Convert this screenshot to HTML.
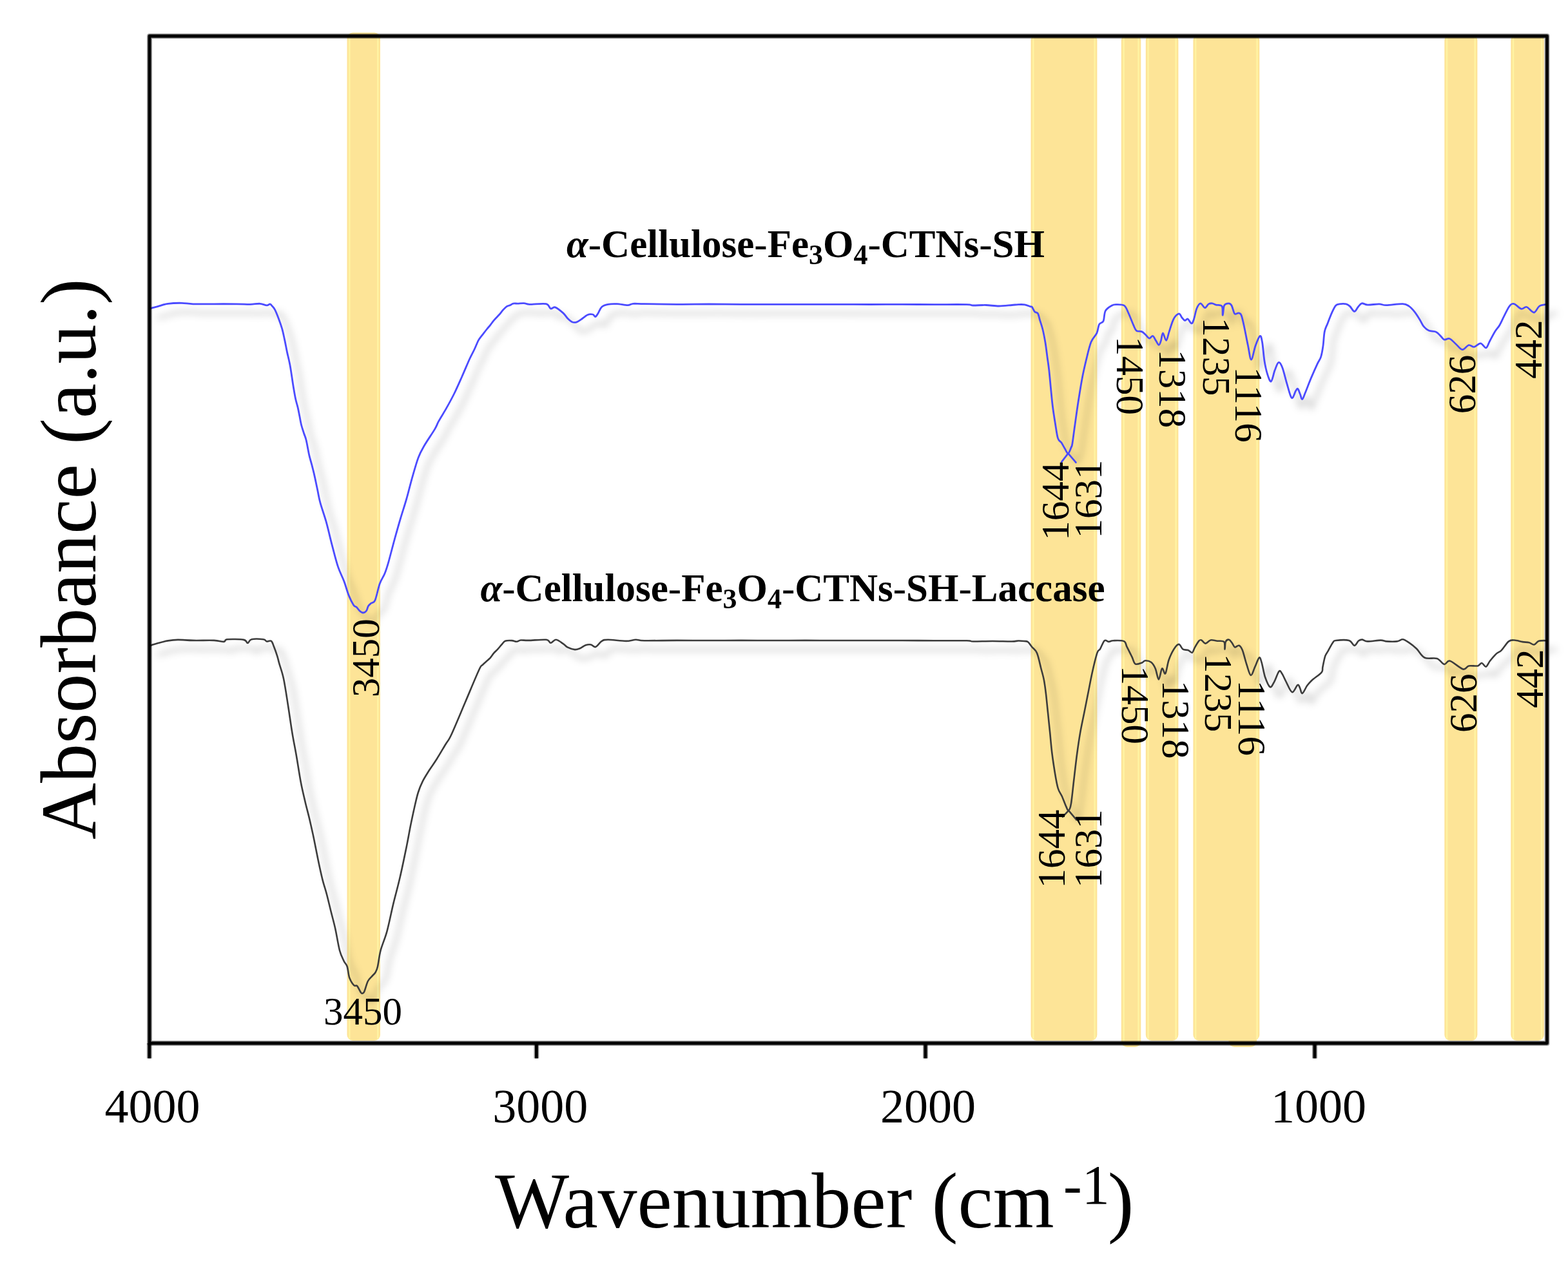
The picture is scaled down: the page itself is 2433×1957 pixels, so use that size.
<!DOCTYPE html>
<html><head><meta charset="utf-8"><title>FTIR spectra</title>
<style>
html,body{margin:0;padding:0;background:#fff;}
body{width:2433px;height:1957px;overflow:hidden;}
svg{display:block;}
</style></head>
<body>
<svg width="2433" height="1957" viewBox="0 0 2433 1957">
<defs>
<filter id="sh" x="0" y="0" width="2433" height="1957" filterUnits="userSpaceOnUse">
<feGaussianBlur in="SourceAlpha" stdDeviation="6"/>
<feOffset dx="14" dy="14" result="b"/>
<feFlood flood-color="#000" flood-opacity="0.30"/>
<feComposite in2="b" operator="in"/>
</filter>
</defs>
<rect width="2433" height="1957" fill="#fff"/>
<g>
<g>
<rect x="538.5" y="50.5" width="51.5" height="1564.5" rx="9" fill="#FDE497"/>
<rect x="1599.5" y="54" width="102.9" height="1561" rx="9" fill="#FDE497"/>
<rect x="1739.8" y="54" width="30.5" height="1571" rx="9" fill="#FDE497"/>
<rect x="1777.8" y="54" width="50.6" height="1561" rx="9" fill="#FDE497"/>
<rect x="1851.4" y="54" width="102.9" height="1561" rx="9" fill="#FDE497"/>
<rect x="1906.5" y="54" width="43.5" height="1571" rx="9" fill="#FDE497"/>
<rect x="2241.3" y="54" width="51.1" height="1561" rx="9" fill="#FDE497"/>
<rect x="2344.3" y="54" width="51.5" height="1561" rx="9" fill="#FDE497"/>
<rect x="541.0" y="53.0" width="2.5" height="1559.5" fill="#FFF3A2"/>
<rect x="585" y="53.0" width="2.5" height="1559.5" fill="#FFF3A2"/>
<rect x="1602.0" y="56.5" width="2.5" height="1556" fill="#FFF3A2"/>
<rect x="1697.4" y="56.5" width="2.5" height="1556" fill="#FFF3A2"/>
<rect x="1742.3" y="56.5" width="2.5" height="1566" fill="#FFF3A2"/>
<rect x="1765.3" y="56.5" width="2.5" height="1566" fill="#FFF3A2"/>
<rect x="1780.3" y="56.5" width="2.5" height="1556" fill="#FFF3A2"/>
<rect x="1823.4" y="56.5" width="2.5" height="1556" fill="#FFF3A2"/>
<rect x="1853.9" y="56.5" width="2.5" height="1556" fill="#FFF3A2"/>
<rect x="1949.3" y="56.5" width="2.5" height="1556" fill="#FFF3A2"/>
<rect x="2243.8" y="56.5" width="2.5" height="1556" fill="#FFF3A2"/>
<rect x="2287.4" y="56.5" width="2.5" height="1556" fill="#FFF3A2"/>
<rect x="2346.8" y="56.5" width="2.5" height="1556" fill="#FFF3A2"/>
<rect x="2390.8" y="56.5" width="2.5" height="1556" fill="#FFF3A2"/>
</g>
<g fill="none" stroke-linejoin="round" stroke-linecap="round">
<path d="M232.0,479.5C232.4,479.3 232.0,479.2 234.2,478.5C236.4,477.8 241.0,476.6 245.4,475.4C249.8,474.2 254.6,472.1 260.7,471.3C266.8,470.5 275.6,470.2 282.1,470.3C288.6,470.4 291.2,471.6 299.5,471.8C307.8,472.1 320.7,471.8 332.1,471.8C343.5,471.8 358.5,471.7 367.9,471.8C377.3,471.9 382.4,472.4 388.3,472.3C394.2,472.2 399.4,471.0 403.6,471.3C407.9,471.6 411.2,473.8 413.8,473.9C416.4,474.0 417.6,471.8 418.9,471.8C420.1,471.8 420.1,472.4 421.3,473.8C422.5,475.2 424.4,476.5 426.3,480.1C428.2,483.7 430.8,490.3 432.7,495.4C434.6,500.5 436.3,505.3 437.8,510.6C439.3,515.9 440.3,521.2 441.6,527.1C442.9,533.0 443.9,539.1 445.4,546.1C446.9,553.1 448.8,559.9 450.4,568.9C452.0,577.9 453.8,591.7 455.2,600.0C456.6,608.3 457.4,613.1 458.5,618.5C459.6,623.9 461.0,627.7 462.1,632.3C463.2,636.9 464.0,641.5 464.9,646.1C465.8,650.7 466.6,655.7 467.7,660.0C468.8,664.3 470.2,668.2 471.4,672.0C472.6,675.8 473.7,677.3 475.1,683.0C476.5,688.7 478.3,700.0 479.7,706.1C481.1,712.2 482.0,714.5 483.4,719.9C484.8,725.3 486.5,731.7 488.0,738.4C489.5,745.1 491.1,753.0 492.6,760.0C494.1,767.0 494.6,771.9 496.9,780.2C499.1,788.5 503.0,798.6 506.1,809.7C509.2,820.8 512.3,834.9 515.4,846.6C518.5,858.3 521.5,870.7 524.6,879.9C527.7,889.1 531.0,894.6 533.8,902.0C536.6,909.4 538.7,918.0 541.2,924.1C543.7,930.2 546.6,935.8 548.6,938.9C550.6,942.0 551.9,941.0 553.5,942.5C555.1,944.0 556.4,946.6 558.0,948.0C559.6,949.4 561.6,951.0 563.4,951.0C565.1,951.0 567.1,949.8 568.5,948.0C569.9,946.2 570.2,942.5 571.5,940.5C572.8,938.5 574.2,937.5 576.0,936.0C577.8,934.5 579.8,936.5 582.0,931.5C584.2,926.5 586.7,912.9 589.2,906.0C591.7,899.1 594.7,895.8 597.0,890.0C599.3,884.2 600.6,880.2 603.1,871.3C605.6,862.4 609.2,847.9 612.3,836.8C615.4,825.7 618.4,814.9 621.5,804.5C624.6,794.1 627.6,785.3 630.7,774.5C633.8,763.7 636.9,750.7 640.0,739.9C643.1,729.1 646.1,718.0 649.2,709.9C652.3,701.8 654.2,698.8 658.4,691.5C662.6,684.2 670.9,672.4 674.6,666.1C678.3,659.8 677.7,659.2 680.7,653.7C683.7,648.2 688.7,640.5 692.7,633.4C696.7,626.3 700.7,619.1 704.7,611.0C708.7,602.9 712.7,593.7 716.7,584.7C720.7,575.7 725.5,564.1 728.7,557.0C732.0,549.9 734.2,546.3 736.2,542.0C738.2,537.7 739.8,533.5 741.0,531.0C742.2,528.5 741.9,528.7 743.2,526.8C744.5,524.9 746.8,522.0 748.8,519.4C750.8,516.8 753.3,513.5 755.3,511.0C757.3,508.5 758.9,506.8 760.8,504.5C762.6,502.2 764.1,499.8 766.4,497.1C768.7,494.4 772.4,490.9 774.7,488.3C777.0,485.7 778.4,483.4 780.3,481.3C782.2,479.2 784.0,477.1 785.9,475.8C787.8,474.5 790.1,474.3 791.9,473.5C793.7,472.7 794.6,471.5 796.5,471.1C798.4,470.7 800.8,471.2 803.5,471.1C806.2,471.0 810.0,470.5 812.8,470.7C815.5,470.9 817.9,471.8 820.0,472.1C822.1,472.4 820.6,472.4 825.2,472.3C829.8,472.2 842.6,470.6 847.5,471.7C852.4,472.8 852.1,478.1 854.4,479.0C856.7,479.9 858.1,475.8 861.4,476.9C864.6,478.0 870.6,483.0 873.9,485.9C877.1,488.8 878.6,492.0 880.9,494.3C883.2,496.6 885.5,498.9 887.8,499.8C890.1,500.7 892.5,500.5 894.8,499.8C897.1,499.1 899.0,497.6 901.8,495.7C904.6,493.8 908.5,490.0 911.5,488.7C914.5,487.4 917.7,487.5 919.8,488.0C921.9,488.5 922.6,491.9 924.0,491.5C925.4,491.1 926.6,488.4 928.2,485.9C929.8,483.3 931.2,478.5 933.8,476.2C936.3,473.9 939.6,473.1 943.5,472.3C947.4,471.6 952.3,471.5 957.4,471.7C962.5,471.9 969.9,473.8 974.1,473.7C978.3,473.6 978.2,471.6 982.5,471.3C986.8,471.0 988.8,471.5 1000.0,471.7C1011.2,471.9 1033.3,472.2 1050.0,472.3C1066.7,472.4 1083.3,472.0 1100.0,472.0C1116.7,472.0 1133.3,472.3 1150.0,472.4C1166.7,472.4 1183.3,472.3 1200.0,472.3C1216.7,472.3 1233.3,472.3 1250.0,472.3C1266.7,472.3 1283.3,472.3 1300.0,472.3C1316.7,472.3 1333.3,472.5 1350.0,472.5C1366.7,472.5 1383.3,472.4 1400.0,472.4C1416.7,472.4 1433.3,472.6 1450.0,472.6C1466.7,472.6 1490.0,472.4 1500.0,472.6C1510.0,472.8 1505.0,473.9 1510.0,474.0C1515.0,474.1 1523.3,473.3 1530.0,473.5C1536.7,473.7 1543.3,475.0 1550.0,475.0C1556.7,475.0 1565.0,473.9 1570.0,473.5C1575.0,473.1 1576.7,472.7 1580.0,472.6C1583.3,472.5 1586.8,472.3 1590.0,472.8C1593.2,473.3 1597.1,475.2 1599.0,475.8C1600.9,476.4 1600.3,475.2 1601.4,476.5C1602.5,477.8 1604.0,482.1 1605.5,483.8C1607.0,485.5 1609.0,484.3 1610.4,486.6C1611.8,488.9 1612.5,493.6 1613.8,497.7C1615.1,501.8 1616.6,505.8 1618.0,511.5C1619.4,517.2 1620.9,525.3 1622.1,532.2C1623.2,539.1 1624.0,546.1 1624.9,553.0C1625.8,559.9 1626.8,565.6 1627.7,573.7C1628.6,581.8 1629.5,592.2 1630.4,601.4C1631.3,610.6 1632.1,619.8 1633.2,629.0C1634.3,638.2 1635.9,648.2 1637.3,656.7C1638.7,665.2 1639.9,675.1 1641.5,680.2C1643.1,685.3 1645.2,684.3 1647.0,687.1C1648.8,689.9 1650.9,694.0 1652.6,696.8C1654.3,699.6 1655.8,704.2 1657.4,703.7C1659.0,703.2 1661.1,696.7 1662.2,694.1C1663.3,691.5 1663.1,693.5 1664.0,688.0C1664.9,682.5 1666.2,671.3 1667.7,661.0C1669.2,650.7 1670.8,638.2 1672.7,626.0C1674.6,613.8 1676.9,599.1 1679.0,587.9C1681.1,576.7 1683.1,568.2 1685.4,558.7C1687.7,549.2 1690.2,537.8 1693.0,530.8C1695.8,523.8 1699.8,521.4 1701.9,516.8C1704.0,512.2 1703.9,506.4 1705.6,503.3C1707.3,500.2 1710.4,501.9 1712.0,498.4C1713.6,494.9 1713.1,486.3 1715.3,482.3C1717.5,478.3 1722.3,475.8 1725.0,474.2C1727.7,472.6 1728.2,472.6 1731.4,472.6C1734.6,472.6 1741.1,472.1 1744.3,474.2C1747.5,476.3 1748.4,480.4 1750.8,485.5C1753.2,490.6 1756.8,500.2 1758.9,504.9C1761.0,509.5 1761.4,511.8 1763.5,513.4C1765.6,515.0 1769.2,513.6 1771.5,514.6C1773.8,515.6 1775.4,517.5 1777.3,519.2C1779.2,520.9 1781.2,524.6 1783.1,525.0C1785.0,525.4 1787.1,520.9 1788.8,521.5C1790.5,522.1 1791.9,526.1 1793.4,528.4C1795.0,530.7 1796.8,535.4 1798.1,535.4C1799.4,535.4 1800.5,531.5 1801.5,528.4C1802.5,525.3 1803.1,516.9 1804.4,516.9C1805.8,516.9 1808.0,528.8 1809.6,528.4C1811.2,528.0 1812.3,520.2 1814.2,514.6C1816.1,509.0 1818.6,499.6 1821.1,495.0C1823.6,490.4 1827.1,487.3 1829.2,486.9C1831.3,486.5 1832.3,491.0 1833.8,492.7C1835.3,494.4 1836.9,496.9 1838.4,497.3C1839.9,497.7 1841.3,494.2 1843.0,495.0C1844.7,495.8 1847.2,501.7 1848.8,501.9C1850.3,502.1 1850.9,500.0 1852.3,496.1C1853.7,492.2 1855.2,483.0 1856.9,478.8C1858.6,474.6 1860.6,471.0 1862.7,470.8C1864.8,470.6 1867.5,477.5 1869.6,477.7C1871.7,477.9 1873.4,473.0 1875.3,471.9C1877.2,470.8 1879.2,470.6 1881.1,470.8C1883.0,471.0 1884.4,472.3 1886.9,473.1C1889.4,473.9 1894.4,472.7 1896.1,475.4C1897.8,478.1 1896.7,489.4 1897.3,489.2C1897.9,489.0 1898.1,477.3 1899.6,474.2C1901.1,471.1 1904.6,470.8 1906.5,470.8C1908.4,470.8 1909.6,471.5 1911.1,474.2C1912.6,476.9 1914.0,485.0 1915.7,486.9C1917.4,488.8 1919.8,485.4 1921.5,485.8C1923.2,486.2 1924.6,485.6 1926.1,489.2C1927.6,492.8 1929.0,499.8 1930.7,507.7C1932.4,515.6 1934.7,528.1 1936.5,536.5C1938.3,544.9 1939.6,558.0 1941.5,558.0C1943.4,558.0 1945.8,542.6 1948.1,536.5C1950.3,530.4 1953.3,522.5 1955.0,521.5C1956.7,520.5 1957.3,524.4 1958.5,530.7C1959.7,537.1 1960.6,551.3 1961.9,559.6C1963.2,567.9 1964.8,574.9 1966.5,580.3C1968.2,585.7 1970.4,592.8 1972.3,591.9C1974.2,591.0 1976.2,579.5 1978.1,574.6C1980.0,569.7 1981.9,563.3 1983.8,562.5C1985.7,561.7 1987.5,564.7 1989.6,570.0C1991.7,575.3 1994.4,586.9 1996.5,594.2C1998.6,601.5 2000.8,610.0 2002.3,613.8C2003.8,617.6 2004.3,618.4 2005.7,617.2C2007.1,616.1 2009.1,609.2 2010.4,606.9C2011.8,604.6 2012.7,602.6 2013.8,603.4C2014.9,604.2 2016.1,608.8 2017.3,611.5C2018.5,614.2 2019.3,620.0 2020.7,619.6C2022.1,619.2 2023.1,614.8 2025.4,609.2C2027.7,603.6 2031.5,593.4 2034.6,586.1C2037.7,578.8 2041.3,570.7 2043.8,565.3C2046.3,559.9 2048.1,558.6 2049.6,553.8C2051.1,549.0 2052.1,543.0 2053.0,536.5C2053.9,530.0 2054.1,520.4 2055.3,514.6C2056.5,508.8 2058.1,506.9 2060.0,501.9C2061.9,496.9 2064.8,489.2 2066.9,484.6C2069.0,480.0 2070.7,476.3 2072.6,474.2C2074.5,472.1 2075.7,472.3 2078.4,471.9C2081.1,471.5 2086.1,471.3 2088.8,471.9C2091.5,472.5 2092.5,473.5 2094.6,475.4C2096.7,477.3 2099.4,483.2 2101.5,483.4C2103.6,483.6 2105.3,478.6 2107.2,476.5C2109.1,474.4 2110.5,471.4 2113.0,470.8C2115.5,470.2 2117.7,472.9 2122.2,473.1C2126.7,473.3 2135.2,471.8 2140.0,471.9C2144.8,472.0 2145.0,473.8 2151.1,473.7C2157.2,473.6 2170.6,471.4 2176.4,471.6C2182.2,471.8 2183.1,473.1 2186.2,475.1C2189.2,477.1 2191.9,480.1 2194.7,483.6C2197.5,487.1 2200.8,492.4 2203.1,496.2C2205.4,499.9 2206.4,503.3 2208.7,506.1C2211.0,508.9 2213.8,511.6 2217.1,513.1C2220.4,514.6 2225.3,513.8 2228.4,515.2C2231.5,516.6 2233.3,519.5 2235.4,521.5C2237.5,523.5 2238.7,526.4 2241.0,527.1C2243.3,527.8 2246.4,524.5 2249.5,525.7C2252.6,526.9 2256.0,531.4 2259.3,534.2C2262.6,537.0 2265.8,542.4 2269.1,542.6C2272.4,542.8 2275.9,536.3 2279.0,535.6C2282.1,534.9 2284.3,538.9 2287.4,538.4C2290.5,537.9 2294.2,532.6 2297.3,532.8C2300.4,533.0 2303.4,540.3 2305.7,539.8C2308.0,539.3 2309.0,534.2 2311.3,530.0C2313.6,525.8 2317.1,518.7 2319.7,514.5C2322.3,510.3 2324.5,508.7 2326.8,504.7C2329.2,500.7 2331.2,495.5 2333.8,490.6C2336.4,485.7 2339.6,478.3 2342.2,475.1C2344.8,471.9 2346.2,470.9 2349.3,471.6C2352.4,472.3 2357.2,478.6 2360.5,479.4C2363.8,480.2 2365.6,475.6 2368.9,476.5C2372.2,477.4 2376.9,485.2 2380.2,485.0C2383.5,484.8 2385.2,477.2 2388.6,475.1C2392.0,473.0 2398.5,472.8 2400.5,472.3" stroke="#000" stroke-width="3" filter="url(#sh)"/>
<path d="M232.0,1002.5C232.4,1002.3 232.0,1002.2 234.2,1001.5C236.4,1000.8 241.0,999.2 245.4,998.0C249.8,996.8 255.6,995.2 260.7,994.4C265.8,993.5 269.5,993.0 276.0,992.9C282.5,992.8 290.1,993.7 299.5,993.9C308.9,994.1 324.1,993.6 332.1,993.9C340.1,994.2 344.0,996.2 347.4,995.9C350.8,995.6 347.5,992.8 352.6,992.3C357.7,991.8 372.8,991.9 378.1,992.9C383.4,993.9 382.2,998.1 384.2,998.0C386.2,997.9 386.2,993.2 390.3,992.3C394.4,991.3 404.8,991.8 408.7,992.3C412.6,992.8 411.8,995.0 413.8,995.4C415.8,995.8 419.0,993.5 420.9,994.9C422.8,996.3 423.5,999.8 425.0,1003.6C426.5,1007.4 428.7,1013.5 430.1,1017.9C431.5,1022.3 431.7,1024.2 433.4,1030.2C435.1,1036.2 437.9,1043.0 440.1,1053.6C442.3,1064.2 444.6,1079.8 446.8,1093.7C449.0,1107.6 451.2,1123.8 453.4,1137.2C455.6,1150.6 457.9,1161.2 460.1,1174.0C462.3,1186.8 464.6,1202.4 466.8,1214.1C469.0,1225.8 471.3,1234.7 473.5,1244.2C475.7,1253.7 478.0,1261.5 480.2,1271.0C482.4,1280.5 484.7,1290.4 486.9,1301.0C489.1,1311.6 491.4,1323.9 493.6,1334.5C495.8,1345.1 498.1,1355.7 500.3,1364.6C502.5,1373.5 504.8,1379.6 507.0,1388.0C509.2,1396.4 511.4,1405.9 513.6,1414.8C515.8,1423.7 518.1,1431.5 520.3,1441.5C522.5,1451.5 524.8,1466.6 527.0,1475.0C529.2,1483.4 531.8,1487.5 533.7,1491.7C535.7,1495.9 537.3,1495.7 538.7,1500.0C540.1,1504.3 540.5,1512.5 542.2,1517.4C544.0,1522.3 547.2,1527.1 549.2,1529.2C551.2,1531.3 552.3,1528.2 554.0,1530.0C555.7,1531.8 558.3,1537.7 559.6,1539.7C560.9,1541.7 560.8,1541.9 561.7,1541.8C562.6,1541.7 563.7,1542.1 565.2,1539.0C566.7,1535.9 568.7,1527.0 570.7,1523.0C572.7,1519.0 575.0,1517.6 577.0,1515.3C579.0,1513.0 581.1,1511.5 582.6,1509.0C584.1,1506.5 584.7,1505.7 586.0,1500.0C587.3,1494.3 588.2,1484.2 590.6,1475.0C593.0,1465.8 597.3,1457.2 600.6,1444.9C603.9,1432.6 607.2,1415.3 610.6,1401.4C614.0,1387.5 617.4,1375.8 620.7,1361.3C624.1,1346.8 627.9,1328.0 630.7,1314.4C633.5,1300.9 635.2,1290.2 637.3,1280.0C639.4,1269.8 641.2,1261.3 643.1,1253.0C645.0,1244.7 646.7,1236.7 648.8,1230.0C650.9,1223.3 652.9,1218.4 655.8,1212.6C658.7,1206.8 662.5,1201.1 666.1,1195.3C669.8,1189.5 673.5,1184.7 677.7,1178.0C681.9,1171.3 687.7,1161.3 691.5,1155.0C695.3,1148.7 695.4,1150.8 700.4,1140.0C705.4,1129.2 714.7,1106.7 721.8,1090.0C728.9,1073.3 738.6,1049.7 743.1,1040.0C747.6,1030.3 746.8,1034.2 748.8,1031.9C750.8,1029.6 753.3,1027.8 755.3,1025.9C757.3,1024.1 758.9,1022.9 760.8,1020.8C762.6,1018.7 764.5,1015.6 766.4,1013.4C768.3,1011.2 770.4,1009.6 772.4,1007.4C774.4,1005.2 776.5,1002.5 778.4,1000.4C780.3,998.3 781.4,995.8 784.0,994.8C786.6,993.8 791.3,993.9 794.2,994.1C797.1,994.3 799.3,995.9 801.6,995.8C803.9,995.7 805.0,993.8 808.1,993.5C811.2,993.2 813.4,994.0 820.0,993.9C826.6,993.8 841.8,992.2 847.5,992.8C853.2,993.4 851.9,997.7 854.4,997.7C856.9,997.7 859.5,992.6 862.8,992.8C866.0,993.0 870.9,997.1 873.9,999.1C876.9,1001.1 877.9,1003.2 880.9,1004.7C883.9,1006.2 888.8,1007.9 892.0,1008.1C895.2,1008.3 897.6,1007.1 900.4,1006.0C903.2,1004.9 905.9,1002.1 908.7,1001.2C911.5,1000.3 914.6,1000.0 917.1,1000.5C919.6,1001.0 921.2,1004.9 924.0,1004.0C926.8,1003.1 930.5,996.8 933.8,994.9C937.0,993.0 937.2,992.8 943.5,992.8C949.8,992.8 964.1,994.9 971.3,994.9C978.5,994.9 981.8,992.9 986.6,992.8C991.4,992.7 989.4,994.0 1000.0,994.2C1010.6,994.4 1033.3,993.9 1050.0,993.9C1066.7,993.9 1083.3,994.0 1100.0,994.0C1116.7,994.0 1133.3,993.9 1150.0,993.9C1166.7,993.9 1183.3,994.0 1200.0,994.0C1216.7,994.0 1233.3,993.9 1250.0,993.9C1266.7,993.9 1283.3,994.0 1300.0,994.0C1316.7,994.0 1333.3,994.0 1350.0,994.0C1366.7,994.0 1383.3,994.0 1400.0,994.0C1416.7,994.0 1433.3,994.2 1450.0,994.2C1466.7,994.2 1490.0,994.1 1500.0,994.3C1510.0,994.5 1503.3,995.4 1510.0,995.5C1516.7,995.6 1530.0,995.0 1540.0,995.0C1550.0,995.0 1563.3,995.6 1570.0,995.5C1576.7,995.4 1576.8,994.6 1580.0,994.5C1583.2,994.4 1586.5,994.7 1589.0,995.0C1591.5,995.3 1593.0,994.7 1595.0,996.2C1597.0,997.7 1598.9,1001.1 1601.2,1004.0C1603.5,1006.9 1606.7,1007.9 1609.0,1013.4C1611.3,1018.9 1613.4,1029.7 1615.2,1036.7C1617.0,1043.7 1618.6,1048.7 1619.9,1055.4C1621.2,1062.2 1622.0,1068.6 1623.0,1077.2C1624.0,1085.8 1625.0,1096.7 1626.1,1106.8C1627.1,1116.9 1628.2,1127.5 1629.3,1137.9C1630.3,1148.3 1631.1,1158.6 1632.4,1169.0C1633.7,1179.4 1635.5,1191.1 1637.0,1200.2C1638.5,1209.3 1639.9,1217.5 1641.7,1223.5C1643.5,1229.5 1645.8,1231.3 1647.9,1236.0C1650.0,1240.7 1652.5,1248.0 1654.2,1251.6C1655.9,1255.2 1656.8,1258.6 1658.1,1257.8C1659.4,1257.0 1660.6,1255.2 1662.0,1246.9C1663.4,1238.6 1665.0,1221.0 1666.6,1208.0C1668.1,1195.0 1669.7,1180.7 1671.3,1169.0C1672.9,1157.3 1674.2,1148.3 1676.0,1137.9C1677.8,1127.5 1680.1,1117.2 1682.2,1106.8C1684.3,1096.4 1686.3,1086.0 1688.4,1075.6C1690.5,1065.2 1692.3,1054.9 1694.6,1044.5C1696.9,1034.1 1700.3,1019.6 1702.4,1013.4C1704.5,1007.2 1705.2,1010.3 1707.1,1007.1C1709.0,1003.9 1711.6,996.1 1713.8,994.2C1716.0,992.3 1718.3,995.9 1720.5,995.9C1722.7,995.9 1723.3,994.3 1727.2,994.2C1731.1,994.1 1740.3,993.5 1743.9,995.1C1747.5,996.7 1746.5,999.8 1748.6,1003.8C1750.7,1007.8 1754.2,1015.0 1756.4,1019.4C1758.6,1023.8 1759.0,1028.9 1761.6,1030.4C1764.2,1031.9 1769.4,1029.3 1772.0,1028.4C1774.6,1027.5 1774.7,1025.3 1777.1,1025.2C1779.5,1025.1 1783.6,1025.8 1786.2,1027.8C1788.8,1029.8 1790.8,1033.1 1792.7,1037.5C1794.7,1041.9 1796.2,1054.4 1797.9,1054.4C1799.6,1054.4 1801.4,1039.0 1803.1,1037.5C1804.8,1036.0 1806.6,1047.5 1808.3,1045.3C1810.0,1043.1 1811.3,1030.8 1813.5,1024.5C1815.7,1018.2 1818.7,1011.8 1821.3,1007.7C1823.9,1003.6 1826.7,999.9 1829.1,999.9C1831.5,999.9 1833.2,1006.2 1835.6,1007.7C1838.0,1009.2 1841.0,1008.1 1843.4,1009.0C1845.8,1009.9 1848.2,1013.5 1849.9,1012.9C1851.6,1012.2 1852.1,1008.1 1853.8,1005.1C1855.5,1002.1 1858.6,996.7 1860.3,994.7C1862.0,992.8 1862.5,992.8 1864.2,993.4C1865.9,994.0 1868.2,998.6 1870.6,998.6C1873.0,998.6 1875.4,994.0 1878.4,993.4C1881.4,992.8 1885.3,994.3 1888.8,994.7C1892.3,995.1 1897.2,993.8 1899.2,996.0C1901.2,998.2 1900.1,1007.7 1900.5,1007.7C1900.9,1007.7 1900.7,998.5 1901.8,996.0C1902.9,993.5 1905.3,992.3 1907.0,992.7C1908.7,993.1 1910.7,996.7 1912.2,998.6C1913.7,1000.5 1914.4,1003.9 1916.1,1004.4C1917.8,1004.9 1920.6,1001.0 1922.6,1001.8C1924.5,1002.6 1925.8,1004.1 1927.8,1009.0C1929.8,1013.9 1932.1,1024.5 1934.3,1031.0C1936.5,1037.5 1938.6,1047.2 1940.8,1047.9C1943.0,1048.6 1945.1,1039.5 1947.3,1034.9C1949.5,1030.4 1952.1,1021.7 1953.8,1020.6C1955.5,1019.5 1956.2,1023.4 1957.7,1028.4C1959.2,1033.4 1960.8,1044.2 1962.9,1050.5C1965.1,1056.8 1968.2,1064.8 1970.6,1066.1C1973.0,1067.4 1974.8,1062.3 1977.1,1058.3C1979.4,1054.2 1982.6,1043.9 1984.6,1041.8C1986.6,1039.7 1987.4,1042.7 1989.3,1045.5C1991.2,1048.3 1993.2,1053.7 1995.8,1058.5C1998.4,1063.3 2002.1,1073.5 2005.0,1074.3C2007.9,1075.1 2011.4,1064.2 2013.4,1063.1C2015.4,1062.0 2015.9,1065.6 2017.1,1067.8C2018.3,1070.0 2018.9,1076.7 2020.8,1076.1C2022.7,1075.5 2025.7,1067.5 2028.2,1064.1C2030.7,1060.7 2032.0,1059.1 2035.7,1055.7C2039.4,1052.3 2047.7,1047.0 2050.5,1043.6C2053.3,1040.2 2051.5,1039.5 2052.4,1035.3C2053.3,1031.1 2054.7,1022.8 2056.1,1018.6C2057.5,1014.4 2058.7,1013.8 2060.7,1010.3C2062.7,1006.8 2066.1,1000.0 2068.1,997.3C2070.1,994.6 2068.6,994.5 2072.8,994.0C2077.0,993.5 2088.4,992.7 2093.2,994.0C2098.0,995.3 2099.0,1001.8 2101.5,1001.9C2104.0,1002.0 2106.0,996.0 2108.0,994.5C2110.0,993.0 2111.3,992.5 2113.6,992.6C2115.9,992.8 2117.1,995.2 2121.9,995.4C2126.7,995.6 2137.4,993.6 2142.3,993.6C2147.2,993.6 2147.4,995.1 2151.6,995.4C2155.8,995.7 2163.4,995.9 2167.6,995.4C2171.8,994.9 2173.6,992.1 2176.5,992.3C2179.4,992.5 2181.7,994.3 2185.3,996.7C2188.9,999.1 2193.8,1002.8 2198.0,1006.8C2202.2,1010.8 2205.3,1018.3 2210.6,1020.8C2215.9,1023.3 2224.5,1020.3 2229.6,1022.0C2234.7,1023.7 2237.6,1030.3 2241.0,1030.9C2244.4,1031.5 2245.1,1024.5 2249.9,1025.8C2254.8,1027.1 2265.2,1037.2 2270.1,1038.5C2274.9,1039.8 2275.2,1034.2 2279.0,1033.4C2282.8,1032.6 2289.5,1034.1 2292.9,1033.4C2296.3,1032.7 2297.1,1028.8 2299.2,1029.0C2301.3,1029.2 2303.5,1035.2 2305.6,1034.7C2307.7,1034.2 2309.2,1029.2 2311.9,1025.8C2314.6,1022.4 2319.1,1017.1 2322.0,1014.4C2324.9,1011.7 2326.4,1012.6 2329.6,1009.4C2332.8,1006.2 2337.6,998.0 2341.0,995.4C2344.4,992.8 2346.3,993.4 2349.9,993.5C2353.5,993.6 2358.7,995.5 2362.5,996.1C2366.3,996.7 2369.7,996.6 2372.7,997.3C2375.7,998.0 2377.8,1000.9 2380.3,1000.5C2382.8,1000.1 2384.4,995.8 2387.8,994.8C2391.2,993.8 2398.4,994.3 2400.5,994.2" stroke="#000" stroke-width="3" filter="url(#sh)"/>
<path d="M232.0,479.5C232.4,479.3 232.0,479.2 234.2,478.5C236.4,477.8 241.0,476.6 245.4,475.4C249.8,474.2 254.6,472.1 260.7,471.3C266.8,470.5 275.6,470.2 282.1,470.3C288.6,470.4 291.2,471.6 299.5,471.8C307.8,472.1 320.7,471.8 332.1,471.8C343.5,471.8 358.5,471.7 367.9,471.8C377.3,471.9 382.4,472.4 388.3,472.3C394.2,472.2 399.4,471.0 403.6,471.3C407.9,471.6 411.2,473.8 413.8,473.9C416.4,474.0 417.6,471.8 418.9,471.8C420.1,471.8 420.1,472.4 421.3,473.8C422.5,475.2 424.4,476.5 426.3,480.1C428.2,483.7 430.8,490.3 432.7,495.4C434.6,500.5 436.3,505.3 437.8,510.6C439.3,515.9 440.3,521.2 441.6,527.1C442.9,533.0 443.9,539.1 445.4,546.1C446.9,553.1 448.8,559.9 450.4,568.9C452.0,577.9 453.8,591.7 455.2,600.0C456.6,608.3 457.4,613.1 458.5,618.5C459.6,623.9 461.0,627.7 462.1,632.3C463.2,636.9 464.0,641.5 464.9,646.1C465.8,650.7 466.6,655.7 467.7,660.0C468.8,664.3 470.2,668.2 471.4,672.0C472.6,675.8 473.7,677.3 475.1,683.0C476.5,688.7 478.3,700.0 479.7,706.1C481.1,712.2 482.0,714.5 483.4,719.9C484.8,725.3 486.5,731.7 488.0,738.4C489.5,745.1 491.1,753.0 492.6,760.0C494.1,767.0 494.6,771.9 496.9,780.2C499.1,788.5 503.0,798.6 506.1,809.7C509.2,820.8 512.3,834.9 515.4,846.6C518.5,858.3 521.5,870.7 524.6,879.9C527.7,889.1 531.0,894.6 533.8,902.0C536.6,909.4 538.7,918.0 541.2,924.1C543.7,930.2 546.6,935.8 548.6,938.9C550.6,942.0 551.9,941.0 553.5,942.5C555.1,944.0 556.4,946.6 558.0,948.0C559.6,949.4 561.6,951.0 563.4,951.0C565.1,951.0 567.1,949.8 568.5,948.0C569.9,946.2 570.2,942.5 571.5,940.5C572.8,938.5 574.2,937.5 576.0,936.0C577.8,934.5 579.8,936.5 582.0,931.5C584.2,926.5 586.7,912.9 589.2,906.0C591.7,899.1 594.7,895.8 597.0,890.0C599.3,884.2 600.6,880.2 603.1,871.3C605.6,862.4 609.2,847.9 612.3,836.8C615.4,825.7 618.4,814.9 621.5,804.5C624.6,794.1 627.6,785.3 630.7,774.5C633.8,763.7 636.9,750.7 640.0,739.9C643.1,729.1 646.1,718.0 649.2,709.9C652.3,701.8 654.2,698.8 658.4,691.5C662.6,684.2 670.9,672.4 674.6,666.1C678.3,659.8 677.7,659.2 680.7,653.7C683.7,648.2 688.7,640.5 692.7,633.4C696.7,626.3 700.7,619.1 704.7,611.0C708.7,602.9 712.7,593.7 716.7,584.7C720.7,575.7 725.5,564.1 728.7,557.0C732.0,549.9 734.2,546.3 736.2,542.0C738.2,537.7 739.8,533.5 741.0,531.0C742.2,528.5 741.9,528.7 743.2,526.8C744.5,524.9 746.8,522.0 748.8,519.4C750.8,516.8 753.3,513.5 755.3,511.0C757.3,508.5 758.9,506.8 760.8,504.5C762.6,502.2 764.1,499.8 766.4,497.1C768.7,494.4 772.4,490.9 774.7,488.3C777.0,485.7 778.4,483.4 780.3,481.3C782.2,479.2 784.0,477.1 785.9,475.8C787.8,474.5 790.1,474.3 791.9,473.5C793.7,472.7 794.6,471.5 796.5,471.1C798.4,470.7 800.8,471.2 803.5,471.1C806.2,471.0 810.0,470.5 812.8,470.7C815.5,470.9 817.9,471.8 820.0,472.1C822.1,472.4 820.6,472.4 825.2,472.3C829.8,472.2 842.6,470.6 847.5,471.7C852.4,472.8 852.1,478.1 854.4,479.0C856.7,479.9 858.1,475.8 861.4,476.9C864.6,478.0 870.6,483.0 873.9,485.9C877.1,488.8 878.6,492.0 880.9,494.3C883.2,496.6 885.5,498.9 887.8,499.8C890.1,500.7 892.5,500.5 894.8,499.8C897.1,499.1 899.0,497.6 901.8,495.7C904.6,493.8 908.5,490.0 911.5,488.7C914.5,487.4 917.7,487.5 919.8,488.0C921.9,488.5 922.6,491.9 924.0,491.5C925.4,491.1 926.6,488.4 928.2,485.9C929.8,483.3 931.2,478.5 933.8,476.2C936.3,473.9 939.6,473.1 943.5,472.3C947.4,471.6 952.3,471.5 957.4,471.7C962.5,471.9 969.9,473.8 974.1,473.7C978.3,473.6 978.2,471.6 982.5,471.3C986.8,471.0 988.8,471.5 1000.0,471.7C1011.2,471.9 1033.3,472.2 1050.0,472.3C1066.7,472.4 1083.3,472.0 1100.0,472.0C1116.7,472.0 1133.3,472.3 1150.0,472.4C1166.7,472.4 1183.3,472.3 1200.0,472.3C1216.7,472.3 1233.3,472.3 1250.0,472.3C1266.7,472.3 1283.3,472.3 1300.0,472.3C1316.7,472.3 1333.3,472.5 1350.0,472.5C1366.7,472.5 1383.3,472.4 1400.0,472.4C1416.7,472.4 1433.3,472.6 1450.0,472.6C1466.7,472.6 1490.0,472.4 1500.0,472.6C1510.0,472.8 1505.0,473.9 1510.0,474.0C1515.0,474.1 1523.3,473.3 1530.0,473.5C1536.7,473.7 1543.3,475.0 1550.0,475.0C1556.7,475.0 1565.0,473.9 1570.0,473.5C1575.0,473.1 1576.7,472.7 1580.0,472.6C1583.3,472.5 1586.8,472.3 1590.0,472.8C1593.2,473.3 1597.1,475.2 1599.0,475.8C1600.9,476.4 1600.3,475.2 1601.4,476.5C1602.5,477.8 1604.0,482.1 1605.5,483.8C1607.0,485.5 1609.0,484.3 1610.4,486.6C1611.8,488.9 1612.5,493.6 1613.8,497.7C1615.1,501.8 1616.6,505.8 1618.0,511.5C1619.4,517.2 1620.9,525.3 1622.1,532.2C1623.2,539.1 1624.0,546.1 1624.9,553.0C1625.8,559.9 1626.8,565.6 1627.7,573.7C1628.6,581.8 1629.5,592.2 1630.4,601.4C1631.3,610.6 1632.1,619.8 1633.2,629.0C1634.3,638.2 1635.9,648.2 1637.3,656.7C1638.7,665.2 1639.9,675.1 1641.5,680.2C1643.1,685.3 1645.2,684.3 1647.0,687.1C1648.8,689.9 1650.9,694.0 1652.6,696.8C1654.3,699.6 1655.8,704.2 1657.4,703.7C1659.0,703.2 1661.1,696.7 1662.2,694.1C1663.3,691.5 1663.1,693.5 1664.0,688.0C1664.9,682.5 1666.2,671.3 1667.7,661.0C1669.2,650.7 1670.8,638.2 1672.7,626.0C1674.6,613.8 1676.9,599.1 1679.0,587.9C1681.1,576.7 1683.1,568.2 1685.4,558.7C1687.7,549.2 1690.2,537.8 1693.0,530.8C1695.8,523.8 1699.8,521.4 1701.9,516.8C1704.0,512.2 1703.9,506.4 1705.6,503.3C1707.3,500.2 1710.4,501.9 1712.0,498.4C1713.6,494.9 1713.1,486.3 1715.3,482.3C1717.5,478.3 1722.3,475.8 1725.0,474.2C1727.7,472.6 1728.2,472.6 1731.4,472.6C1734.6,472.6 1741.1,472.1 1744.3,474.2C1747.5,476.3 1748.4,480.4 1750.8,485.5C1753.2,490.6 1756.8,500.2 1758.9,504.9C1761.0,509.5 1761.4,511.8 1763.5,513.4C1765.6,515.0 1769.2,513.6 1771.5,514.6C1773.8,515.6 1775.4,517.5 1777.3,519.2C1779.2,520.9 1781.2,524.6 1783.1,525.0C1785.0,525.4 1787.1,520.9 1788.8,521.5C1790.5,522.1 1791.9,526.1 1793.4,528.4C1795.0,530.7 1796.8,535.4 1798.1,535.4C1799.4,535.4 1800.5,531.5 1801.5,528.4C1802.5,525.3 1803.1,516.9 1804.4,516.9C1805.8,516.9 1808.0,528.8 1809.6,528.4C1811.2,528.0 1812.3,520.2 1814.2,514.6C1816.1,509.0 1818.6,499.6 1821.1,495.0C1823.6,490.4 1827.1,487.3 1829.2,486.9C1831.3,486.5 1832.3,491.0 1833.8,492.7C1835.3,494.4 1836.9,496.9 1838.4,497.3C1839.9,497.7 1841.3,494.2 1843.0,495.0C1844.7,495.8 1847.2,501.7 1848.8,501.9C1850.3,502.1 1850.9,500.0 1852.3,496.1C1853.7,492.2 1855.2,483.0 1856.9,478.8C1858.6,474.6 1860.6,471.0 1862.7,470.8C1864.8,470.6 1867.5,477.5 1869.6,477.7C1871.7,477.9 1873.4,473.0 1875.3,471.9C1877.2,470.8 1879.2,470.6 1881.1,470.8C1883.0,471.0 1884.4,472.3 1886.9,473.1C1889.4,473.9 1894.4,472.7 1896.1,475.4C1897.8,478.1 1896.7,489.4 1897.3,489.2C1897.9,489.0 1898.1,477.3 1899.6,474.2C1901.1,471.1 1904.6,470.8 1906.5,470.8C1908.4,470.8 1909.6,471.5 1911.1,474.2C1912.6,476.9 1914.0,485.0 1915.7,486.9C1917.4,488.8 1919.8,485.4 1921.5,485.8C1923.2,486.2 1924.6,485.6 1926.1,489.2C1927.6,492.8 1929.0,499.8 1930.7,507.7C1932.4,515.6 1934.7,528.1 1936.5,536.5C1938.3,544.9 1939.6,558.0 1941.5,558.0C1943.4,558.0 1945.8,542.6 1948.1,536.5C1950.3,530.4 1953.3,522.5 1955.0,521.5C1956.7,520.5 1957.3,524.4 1958.5,530.7C1959.7,537.1 1960.6,551.3 1961.9,559.6C1963.2,567.9 1964.8,574.9 1966.5,580.3C1968.2,585.7 1970.4,592.8 1972.3,591.9C1974.2,591.0 1976.2,579.5 1978.1,574.6C1980.0,569.7 1981.9,563.3 1983.8,562.5C1985.7,561.7 1987.5,564.7 1989.6,570.0C1991.7,575.3 1994.4,586.9 1996.5,594.2C1998.6,601.5 2000.8,610.0 2002.3,613.8C2003.8,617.6 2004.3,618.4 2005.7,617.2C2007.1,616.1 2009.1,609.2 2010.4,606.9C2011.8,604.6 2012.7,602.6 2013.8,603.4C2014.9,604.2 2016.1,608.8 2017.3,611.5C2018.5,614.2 2019.3,620.0 2020.7,619.6C2022.1,619.2 2023.1,614.8 2025.4,609.2C2027.7,603.6 2031.5,593.4 2034.6,586.1C2037.7,578.8 2041.3,570.7 2043.8,565.3C2046.3,559.9 2048.1,558.6 2049.6,553.8C2051.1,549.0 2052.1,543.0 2053.0,536.5C2053.9,530.0 2054.1,520.4 2055.3,514.6C2056.5,508.8 2058.1,506.9 2060.0,501.9C2061.9,496.9 2064.8,489.2 2066.9,484.6C2069.0,480.0 2070.7,476.3 2072.6,474.2C2074.5,472.1 2075.7,472.3 2078.4,471.9C2081.1,471.5 2086.1,471.3 2088.8,471.9C2091.5,472.5 2092.5,473.5 2094.6,475.4C2096.7,477.3 2099.4,483.2 2101.5,483.4C2103.6,483.6 2105.3,478.6 2107.2,476.5C2109.1,474.4 2110.5,471.4 2113.0,470.8C2115.5,470.2 2117.7,472.9 2122.2,473.1C2126.7,473.3 2135.2,471.8 2140.0,471.9C2144.8,472.0 2145.0,473.8 2151.1,473.7C2157.2,473.6 2170.6,471.4 2176.4,471.6C2182.2,471.8 2183.1,473.1 2186.2,475.1C2189.2,477.1 2191.9,480.1 2194.7,483.6C2197.5,487.1 2200.8,492.4 2203.1,496.2C2205.4,499.9 2206.4,503.3 2208.7,506.1C2211.0,508.9 2213.8,511.6 2217.1,513.1C2220.4,514.6 2225.3,513.8 2228.4,515.2C2231.5,516.6 2233.3,519.5 2235.4,521.5C2237.5,523.5 2238.7,526.4 2241.0,527.1C2243.3,527.8 2246.4,524.5 2249.5,525.7C2252.6,526.9 2256.0,531.4 2259.3,534.2C2262.6,537.0 2265.8,542.4 2269.1,542.6C2272.4,542.8 2275.9,536.3 2279.0,535.6C2282.1,534.9 2284.3,538.9 2287.4,538.4C2290.5,537.9 2294.2,532.6 2297.3,532.8C2300.4,533.0 2303.4,540.3 2305.7,539.8C2308.0,539.3 2309.0,534.2 2311.3,530.0C2313.6,525.8 2317.1,518.7 2319.7,514.5C2322.3,510.3 2324.5,508.7 2326.8,504.7C2329.2,500.7 2331.2,495.5 2333.8,490.6C2336.4,485.7 2339.6,478.3 2342.2,475.1C2344.8,471.9 2346.2,470.9 2349.3,471.6C2352.4,472.3 2357.2,478.6 2360.5,479.4C2363.8,480.2 2365.6,475.6 2368.9,476.5C2372.2,477.4 2376.9,485.2 2380.2,485.0C2383.5,484.8 2385.2,477.2 2388.6,475.1C2392.0,473.0 2398.5,472.8 2400.5,472.3" stroke="#4B4BFF" stroke-width="2.8"/>
<path d="M232.0,1002.5C232.4,1002.3 232.0,1002.2 234.2,1001.5C236.4,1000.8 241.0,999.2 245.4,998.0C249.8,996.8 255.6,995.2 260.7,994.4C265.8,993.5 269.5,993.0 276.0,992.9C282.5,992.8 290.1,993.7 299.5,993.9C308.9,994.1 324.1,993.6 332.1,993.9C340.1,994.2 344.0,996.2 347.4,995.9C350.8,995.6 347.5,992.8 352.6,992.3C357.7,991.8 372.8,991.9 378.1,992.9C383.4,993.9 382.2,998.1 384.2,998.0C386.2,997.9 386.2,993.2 390.3,992.3C394.4,991.3 404.8,991.8 408.7,992.3C412.6,992.8 411.8,995.0 413.8,995.4C415.8,995.8 419.0,993.5 420.9,994.9C422.8,996.3 423.5,999.8 425.0,1003.6C426.5,1007.4 428.7,1013.5 430.1,1017.9C431.5,1022.3 431.7,1024.2 433.4,1030.2C435.1,1036.2 437.9,1043.0 440.1,1053.6C442.3,1064.2 444.6,1079.8 446.8,1093.7C449.0,1107.6 451.2,1123.8 453.4,1137.2C455.6,1150.6 457.9,1161.2 460.1,1174.0C462.3,1186.8 464.6,1202.4 466.8,1214.1C469.0,1225.8 471.3,1234.7 473.5,1244.2C475.7,1253.7 478.0,1261.5 480.2,1271.0C482.4,1280.5 484.7,1290.4 486.9,1301.0C489.1,1311.6 491.4,1323.9 493.6,1334.5C495.8,1345.1 498.1,1355.7 500.3,1364.6C502.5,1373.5 504.8,1379.6 507.0,1388.0C509.2,1396.4 511.4,1405.9 513.6,1414.8C515.8,1423.7 518.1,1431.5 520.3,1441.5C522.5,1451.5 524.8,1466.6 527.0,1475.0C529.2,1483.4 531.8,1487.5 533.7,1491.7C535.7,1495.9 537.3,1495.7 538.7,1500.0C540.1,1504.3 540.5,1512.5 542.2,1517.4C544.0,1522.3 547.2,1527.1 549.2,1529.2C551.2,1531.3 552.3,1528.2 554.0,1530.0C555.7,1531.8 558.3,1537.7 559.6,1539.7C560.9,1541.7 560.8,1541.9 561.7,1541.8C562.6,1541.7 563.7,1542.1 565.2,1539.0C566.7,1535.9 568.7,1527.0 570.7,1523.0C572.7,1519.0 575.0,1517.6 577.0,1515.3C579.0,1513.0 581.1,1511.5 582.6,1509.0C584.1,1506.5 584.7,1505.7 586.0,1500.0C587.3,1494.3 588.2,1484.2 590.6,1475.0C593.0,1465.8 597.3,1457.2 600.6,1444.9C603.9,1432.6 607.2,1415.3 610.6,1401.4C614.0,1387.5 617.4,1375.8 620.7,1361.3C624.1,1346.8 627.9,1328.0 630.7,1314.4C633.5,1300.9 635.2,1290.2 637.3,1280.0C639.4,1269.8 641.2,1261.3 643.1,1253.0C645.0,1244.7 646.7,1236.7 648.8,1230.0C650.9,1223.3 652.9,1218.4 655.8,1212.6C658.7,1206.8 662.5,1201.1 666.1,1195.3C669.8,1189.5 673.5,1184.7 677.7,1178.0C681.9,1171.3 687.7,1161.3 691.5,1155.0C695.3,1148.7 695.4,1150.8 700.4,1140.0C705.4,1129.2 714.7,1106.7 721.8,1090.0C728.9,1073.3 738.6,1049.7 743.1,1040.0C747.6,1030.3 746.8,1034.2 748.8,1031.9C750.8,1029.6 753.3,1027.8 755.3,1025.9C757.3,1024.1 758.9,1022.9 760.8,1020.8C762.6,1018.7 764.5,1015.6 766.4,1013.4C768.3,1011.2 770.4,1009.6 772.4,1007.4C774.4,1005.2 776.5,1002.5 778.4,1000.4C780.3,998.3 781.4,995.8 784.0,994.8C786.6,993.8 791.3,993.9 794.2,994.1C797.1,994.3 799.3,995.9 801.6,995.8C803.9,995.7 805.0,993.8 808.1,993.5C811.2,993.2 813.4,994.0 820.0,993.9C826.6,993.8 841.8,992.2 847.5,992.8C853.2,993.4 851.9,997.7 854.4,997.7C856.9,997.7 859.5,992.6 862.8,992.8C866.0,993.0 870.9,997.1 873.9,999.1C876.9,1001.1 877.9,1003.2 880.9,1004.7C883.9,1006.2 888.8,1007.9 892.0,1008.1C895.2,1008.3 897.6,1007.1 900.4,1006.0C903.2,1004.9 905.9,1002.1 908.7,1001.2C911.5,1000.3 914.6,1000.0 917.1,1000.5C919.6,1001.0 921.2,1004.9 924.0,1004.0C926.8,1003.1 930.5,996.8 933.8,994.9C937.0,993.0 937.2,992.8 943.5,992.8C949.8,992.8 964.1,994.9 971.3,994.9C978.5,994.9 981.8,992.9 986.6,992.8C991.4,992.7 989.4,994.0 1000.0,994.2C1010.6,994.4 1033.3,993.9 1050.0,993.9C1066.7,993.9 1083.3,994.0 1100.0,994.0C1116.7,994.0 1133.3,993.9 1150.0,993.9C1166.7,993.9 1183.3,994.0 1200.0,994.0C1216.7,994.0 1233.3,993.9 1250.0,993.9C1266.7,993.9 1283.3,994.0 1300.0,994.0C1316.7,994.0 1333.3,994.0 1350.0,994.0C1366.7,994.0 1383.3,994.0 1400.0,994.0C1416.7,994.0 1433.3,994.2 1450.0,994.2C1466.7,994.2 1490.0,994.1 1500.0,994.3C1510.0,994.5 1503.3,995.4 1510.0,995.5C1516.7,995.6 1530.0,995.0 1540.0,995.0C1550.0,995.0 1563.3,995.6 1570.0,995.5C1576.7,995.4 1576.8,994.6 1580.0,994.5C1583.2,994.4 1586.5,994.7 1589.0,995.0C1591.5,995.3 1593.0,994.7 1595.0,996.2C1597.0,997.7 1598.9,1001.1 1601.2,1004.0C1603.5,1006.9 1606.7,1007.9 1609.0,1013.4C1611.3,1018.9 1613.4,1029.7 1615.2,1036.7C1617.0,1043.7 1618.6,1048.7 1619.9,1055.4C1621.2,1062.2 1622.0,1068.6 1623.0,1077.2C1624.0,1085.8 1625.0,1096.7 1626.1,1106.8C1627.1,1116.9 1628.2,1127.5 1629.3,1137.9C1630.3,1148.3 1631.1,1158.6 1632.4,1169.0C1633.7,1179.4 1635.5,1191.1 1637.0,1200.2C1638.5,1209.3 1639.9,1217.5 1641.7,1223.5C1643.5,1229.5 1645.8,1231.3 1647.9,1236.0C1650.0,1240.7 1652.5,1248.0 1654.2,1251.6C1655.9,1255.2 1656.8,1258.6 1658.1,1257.8C1659.4,1257.0 1660.6,1255.2 1662.0,1246.9C1663.4,1238.6 1665.0,1221.0 1666.6,1208.0C1668.1,1195.0 1669.7,1180.7 1671.3,1169.0C1672.9,1157.3 1674.2,1148.3 1676.0,1137.9C1677.8,1127.5 1680.1,1117.2 1682.2,1106.8C1684.3,1096.4 1686.3,1086.0 1688.4,1075.6C1690.5,1065.2 1692.3,1054.9 1694.6,1044.5C1696.9,1034.1 1700.3,1019.6 1702.4,1013.4C1704.5,1007.2 1705.2,1010.3 1707.1,1007.1C1709.0,1003.9 1711.6,996.1 1713.8,994.2C1716.0,992.3 1718.3,995.9 1720.5,995.9C1722.7,995.9 1723.3,994.3 1727.2,994.2C1731.1,994.1 1740.3,993.5 1743.9,995.1C1747.5,996.7 1746.5,999.8 1748.6,1003.8C1750.7,1007.8 1754.2,1015.0 1756.4,1019.4C1758.6,1023.8 1759.0,1028.9 1761.6,1030.4C1764.2,1031.9 1769.4,1029.3 1772.0,1028.4C1774.6,1027.5 1774.7,1025.3 1777.1,1025.2C1779.5,1025.1 1783.6,1025.8 1786.2,1027.8C1788.8,1029.8 1790.8,1033.1 1792.7,1037.5C1794.7,1041.9 1796.2,1054.4 1797.9,1054.4C1799.6,1054.4 1801.4,1039.0 1803.1,1037.5C1804.8,1036.0 1806.6,1047.5 1808.3,1045.3C1810.0,1043.1 1811.3,1030.8 1813.5,1024.5C1815.7,1018.2 1818.7,1011.8 1821.3,1007.7C1823.9,1003.6 1826.7,999.9 1829.1,999.9C1831.5,999.9 1833.2,1006.2 1835.6,1007.7C1838.0,1009.2 1841.0,1008.1 1843.4,1009.0C1845.8,1009.9 1848.2,1013.5 1849.9,1012.9C1851.6,1012.2 1852.1,1008.1 1853.8,1005.1C1855.5,1002.1 1858.6,996.7 1860.3,994.7C1862.0,992.8 1862.5,992.8 1864.2,993.4C1865.9,994.0 1868.2,998.6 1870.6,998.6C1873.0,998.6 1875.4,994.0 1878.4,993.4C1881.4,992.8 1885.3,994.3 1888.8,994.7C1892.3,995.1 1897.2,993.8 1899.2,996.0C1901.2,998.2 1900.1,1007.7 1900.5,1007.7C1900.9,1007.7 1900.7,998.5 1901.8,996.0C1902.9,993.5 1905.3,992.3 1907.0,992.7C1908.7,993.1 1910.7,996.7 1912.2,998.6C1913.7,1000.5 1914.4,1003.9 1916.1,1004.4C1917.8,1004.9 1920.6,1001.0 1922.6,1001.8C1924.5,1002.6 1925.8,1004.1 1927.8,1009.0C1929.8,1013.9 1932.1,1024.5 1934.3,1031.0C1936.5,1037.5 1938.6,1047.2 1940.8,1047.9C1943.0,1048.6 1945.1,1039.5 1947.3,1034.9C1949.5,1030.4 1952.1,1021.7 1953.8,1020.6C1955.5,1019.5 1956.2,1023.4 1957.7,1028.4C1959.2,1033.4 1960.8,1044.2 1962.9,1050.5C1965.1,1056.8 1968.2,1064.8 1970.6,1066.1C1973.0,1067.4 1974.8,1062.3 1977.1,1058.3C1979.4,1054.2 1982.6,1043.9 1984.6,1041.8C1986.6,1039.7 1987.4,1042.7 1989.3,1045.5C1991.2,1048.3 1993.2,1053.7 1995.8,1058.5C1998.4,1063.3 2002.1,1073.5 2005.0,1074.3C2007.9,1075.1 2011.4,1064.2 2013.4,1063.1C2015.4,1062.0 2015.9,1065.6 2017.1,1067.8C2018.3,1070.0 2018.9,1076.7 2020.8,1076.1C2022.7,1075.5 2025.7,1067.5 2028.2,1064.1C2030.7,1060.7 2032.0,1059.1 2035.7,1055.7C2039.4,1052.3 2047.7,1047.0 2050.5,1043.6C2053.3,1040.2 2051.5,1039.5 2052.4,1035.3C2053.3,1031.1 2054.7,1022.8 2056.1,1018.6C2057.5,1014.4 2058.7,1013.8 2060.7,1010.3C2062.7,1006.8 2066.1,1000.0 2068.1,997.3C2070.1,994.6 2068.6,994.5 2072.8,994.0C2077.0,993.5 2088.4,992.7 2093.2,994.0C2098.0,995.3 2099.0,1001.8 2101.5,1001.9C2104.0,1002.0 2106.0,996.0 2108.0,994.5C2110.0,993.0 2111.3,992.5 2113.6,992.6C2115.9,992.8 2117.1,995.2 2121.9,995.4C2126.7,995.6 2137.4,993.6 2142.3,993.6C2147.2,993.6 2147.4,995.1 2151.6,995.4C2155.8,995.7 2163.4,995.9 2167.6,995.4C2171.8,994.9 2173.6,992.1 2176.5,992.3C2179.4,992.5 2181.7,994.3 2185.3,996.7C2188.9,999.1 2193.8,1002.8 2198.0,1006.8C2202.2,1010.8 2205.3,1018.3 2210.6,1020.8C2215.9,1023.3 2224.5,1020.3 2229.6,1022.0C2234.7,1023.7 2237.6,1030.3 2241.0,1030.9C2244.4,1031.5 2245.1,1024.5 2249.9,1025.8C2254.8,1027.1 2265.2,1037.2 2270.1,1038.5C2274.9,1039.8 2275.2,1034.2 2279.0,1033.4C2282.8,1032.6 2289.5,1034.1 2292.9,1033.4C2296.3,1032.7 2297.1,1028.8 2299.2,1029.0C2301.3,1029.2 2303.5,1035.2 2305.6,1034.7C2307.7,1034.2 2309.2,1029.2 2311.9,1025.8C2314.6,1022.4 2319.1,1017.1 2322.0,1014.4C2324.9,1011.7 2326.4,1012.6 2329.6,1009.4C2332.8,1006.2 2337.6,998.0 2341.0,995.4C2344.4,992.8 2346.3,993.4 2349.9,993.5C2353.5,993.6 2358.7,995.5 2362.5,996.1C2366.3,996.7 2369.7,996.6 2372.7,997.3C2375.7,998.0 2377.8,1000.9 2380.3,1000.5C2382.8,1000.1 2384.4,995.8 2387.8,994.8C2391.2,993.8 2398.4,994.3 2400.5,994.2" stroke="#3C3C3C" stroke-width="2.6"/>
<polyline points="1647.2,716.8 1657.4,703.7 1669.4,717.7" stroke="#4B4BFF" stroke-width="2.8"/>
<polyline points="1649,1267.7 1658.1,1257.8 1670.3,1272.3" stroke="#3C3C3C" stroke-width="2.6"/>
</g>
<g font-family="'Liberation Serif','Times New Roman',serif" font-size="61" fill="#000">
<text transform="translate(568.4,1021.3) rotate(-90)" x="0" y="20.0" text-anchor="middle">3450</text>
<text transform="translate(1637.5,777.7) rotate(-90)" x="0" y="20.0" text-anchor="middle">1644</text>
<text transform="translate(1689.2,774.4) rotate(-90)" x="0" y="20.0" text-anchor="middle">1631</text>
<text transform="translate(1753.4,583.0) rotate(90)" x="0" y="20.0" text-anchor="middle">1450</text>
<text transform="translate(1819.2,603.2) rotate(90)" x="0" y="20.0" text-anchor="middle">1318</text>
<text transform="translate(1887.2,553.4) rotate(90)" x="0" y="20.0" text-anchor="middle">1235</text>
<text transform="translate(1937.4,628.0) rotate(90)" x="0" y="20.0" text-anchor="middle">1116</text>
<text transform="translate(2269.2,596.5) rotate(-90)" x="0" y="20.0" text-anchor="middle">626</text>
<text transform="translate(2372.2,542.3) rotate(-90)" x="0" y="20.0" text-anchor="middle">442</text>
<text transform="translate(1632.0,1317.5) rotate(-90)" x="0" y="20.0" text-anchor="middle">1644</text>
<text transform="translate(1688.7,1317.0) rotate(-90)" x="0" y="20.0" text-anchor="middle">1631</text>
<text transform="translate(1760.9,1094.0) rotate(90)" x="0" y="20.0" text-anchor="middle">1450</text>
<text transform="translate(1823.9,1116.7) rotate(90)" x="0" y="20.0" text-anchor="middle">1318</text>
<text transform="translate(1889.5,1075.2) rotate(90)" x="0" y="20.0" text-anchor="middle">1235</text>
<text transform="translate(1942.1,1114.2) rotate(90)" x="0" y="20.0" text-anchor="middle">1116</text>
<text transform="translate(2270.5,1091.2) rotate(-90)" x="0" y="20.0" text-anchor="middle">626</text>
<text transform="translate(2374.0,1053.2) rotate(-90)" x="0" y="20.0" text-anchor="middle">442</text>
<text x="563.0" y="1589.5" text-anchor="middle">3450</text>
</g>
<g font-family="'Liberation Serif','Times New Roman',serif" font-weight="bold" font-size="61" fill="#000">
<text x="879" y="398.5"><tspan font-style="italic">α</tspan><tspan font-weight="normal">-</tspan>Cellulose<tspan font-weight="normal">-</tspan>Fe<tspan font-size="44" dy="11.5">3</tspan><tspan dy="-11.5">O</tspan><tspan font-size="44" dy="11.5">4</tspan><tspan dy="-11.5" font-weight="normal">-</tspan>CTNs<tspan font-weight="normal">-</tspan>SH</text>
<text x="745.5" y="932.6"><tspan font-style="italic">α</tspan><tspan font-weight="normal">-</tspan>Cellulose<tspan font-weight="normal">-</tspan>Fe<tspan font-size="44" dy="11.5">3</tspan><tspan dy="-11.5">O</tspan><tspan font-size="44" dy="11.5">4</tspan><tspan dy="-11.5" font-weight="normal">-</tspan>CTNs<tspan font-weight="normal">-</tspan>SH<tspan font-weight="normal">-</tspan>Laccase</text>
</g>
<g stroke="#000" stroke-opacity="0.4" stroke-width="8" fill="none" stroke-linejoin="round">
<rect x="232" y="56" width="2168.5" height="1563"/>
<line x1="231.8" y1="1619" x2="231.8" y2="1642.5"/>
<line x1="832.4" y1="1619" x2="832.4" y2="1642.5"/>
<line x1="1436.0" y1="1619" x2="1436.0" y2="1642.5"/>
<line x1="2040.0" y1="1619" x2="2040.0" y2="1642.5"/>
</g>
<g stroke="#000" stroke-width="4.8" fill="none" stroke-linejoin="round">
<rect x="232" y="56" width="2168.5" height="1563"/>
<line x1="231.8" y1="1619" x2="231.8" y2="1642.5"/>
<line x1="832.4" y1="1619" x2="832.4" y2="1642.5"/>
<line x1="1436.0" y1="1619" x2="1436.0" y2="1642.5"/>
<line x1="2040.0" y1="1619" x2="2040.0" y2="1642.5"/>
</g>
<g font-family="'Liberation Serif','Times New Roman',serif" font-size="74" fill="#000">
<text x="162.5" y="1742">4000</text>
<text x="764.2" y="1742">3000</text>
<text x="1366" y="1742">2000</text>
<text x="1972" y="1742">1000</text>
</g>
<g font-family="'Liberation Serif','Times New Roman',serif" font-size="122" fill="#000">
<text transform="translate(148,1303) rotate(-90)" x="0" y="0">Absorbance (a.u.)</text>
<text x="768" y="1905">Wavenumber (cm<tspan font-size="86" dy="-37" dx="-7"> -1</tspan><tspan dy="37" dx="-3">)</tspan></text>
</g>
</g>
</svg>
</body></html>
